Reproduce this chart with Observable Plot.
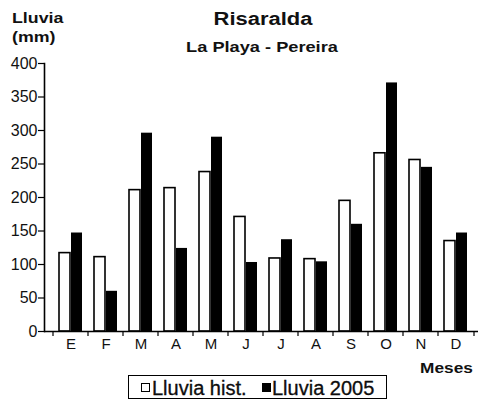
<!DOCTYPE html>
<html>
<head>
<meta charset="utf-8">
<script src="https://cdn.jsdelivr.net/npm/d3@7"></script>
<script src="https://cdn.jsdelivr.net/npm/@observablehq/plot@0.6"></script>
<style>
  html, body { margin: 0; padding: 0; background: #fff; }
  #wrap { position: relative; width: 484px; height: 405px; font-family: "Liberation Sans", Arial, sans-serif; color: #111; overflow: hidden; }
  #wrap svg { position: absolute; left: 0; top: 0; }
  .t { position: absolute; line-height: 1; white-space: nowrap; font-weight: bold; }
  #title { left: 263px; top: 10px; font-size: 18px; transform: translateX(-50%) scaleX(1.22); }
  #subtitle { left: 262px; top: 40px; font-size: 14px; transform: translateX(-50%) scaleX(1.3); }
  #ylab1 { left: 12px; top: 11px; font-size: 14px; transform-origin: left; transform: scaleX(1.27); }
  #ylab2 { left: 12px; top: 30px; font-size: 14px; transform-origin: left; transform: scaleX(1.27); }
  #xlab { right: 11px; top: 360px; font-size: 15px; transform-origin: right; transform: scaleX(1.15); }
  #legend { position: absolute; left: 128px; top: 375px; width: 257px; height: 22px; border: 1.5px solid #000; }
  .sq { position: absolute; top: 7px; width: 9px; height: 9px; box-sizing: border-box; border: 1.2px solid #000; }
  .lt { position: absolute; top: 2px; font-size: 20px; line-height: 1; white-space: nowrap; -webkit-text-stroke: 0.3px #000; }
</style>
</head>
<body>
<div id="wrap"></div>
<script>
const months = ["E","F","M","A","M","J","J","A","S","O","N","D"];
const lluviaHist = [117,111,211,214,238,171,109,108,195,266,256,135];
const lluvia2005 = [147,60,296,124,290,103,137,104,160,371,245,147];
const yTicks = [0,50,100,150,200,250,300,350,400];
const seriesNames = ["Lluvia hist.", "Lluvia 2005"];
const titleText = "Risaralda";
const subtitleText = "La Playa - Pereira";
const yLabelLines = ["Lluvia", "(mm)"];
const xLabelText = "Meses";

const idx = d3.range(months.length);
const data = idx.map(i => ({i, hist: lluviaHist[i], y2005: lluvia2005[i]}));

const chart = Plot.plot({
  width: 484,
  height: 405,
  marginLeft: 44,
  marginRight: 6,
  marginTop: 63,
  marginBottom: 74,
  style: {fontFamily: "Liberation Sans, Arial, sans-serif", color: "#111", background: "transparent", overflow: "visible"},
  x: {type: "band", domain: idx, range: [47, 478], padding: 0, label: null},
  y: {domain: [0, 400], label: null},
  marks: [
    Plot.barY(data, {x: "i", y: "hist", fill: "white", stroke: "black", strokeWidth: 1.6, insetLeft: 6, insetRight: 18}),
    Plot.barY(data, {x: "i", y: "y2005", fill: "black", insetLeft: 18, insetRight: 6}),
    // small tick marks at the boundaries between month bands, below the axis
    Plot.tickX(idx, {x: d => d, dx: -18, insetTop: 268, insetBottom: -5, stroke: "black", strokeWidth: 1.2}),
    Plot.tickX([idx[idx.length - 1]], {x: d => d, dx: 18, insetTop: 268, insetBottom: -5, stroke: "black", strokeWidth: 1.2}),
    Plot.frame({anchor: "left", stroke: "black", strokeWidth: 1.6}),
    Plot.ruleY([0], {stroke: "black", strokeWidth: 1.6}),
    Plot.axisY({ticks: yTicks, tickSize: 6, tickPadding: 1, fontSize: 16, tickFormat: d => String(d), stroke: "black", strokeWidth: 1.2, label: null}),
    Plot.axisX({tickSize: 0, tickPadding: 7, fontSize: 15, tickFormat: i => months[i], label: null})
  ]
});

const wrap = document.getElementById("wrap");
wrap.appendChild(chart);

function addText(id, txt) {
  const d = document.createElement("div");
  d.className = "t"; d.id = id; d.textContent = txt;
  wrap.appendChild(d);
}
addText("title", titleText);
addText("subtitle", subtitleText);
addText("ylab1", yLabelLines[0]);
addText("ylab2", yLabelLines[1]);
addText("xlab", xLabelText);

const legend = document.createElement("div");
legend.id = "legend";
const fills = ["#fff", "#000"];
const sqLeft = [12, 133];
const txtLeft = [23, 143];
seriesNames.forEach((name, k) => {
  const sq = document.createElement("div");
  sq.className = "sq";
  sq.style.background = fills[k];
  sq.style.left = sqLeft[k] + "px";
  const t = document.createElement("div");
  t.className = "lt";
  t.style.left = txtLeft[k] + "px";
  t.textContent = name;
  legend.appendChild(sq);
  legend.appendChild(t);
});
wrap.appendChild(legend);
</script>
</body>
</html>
